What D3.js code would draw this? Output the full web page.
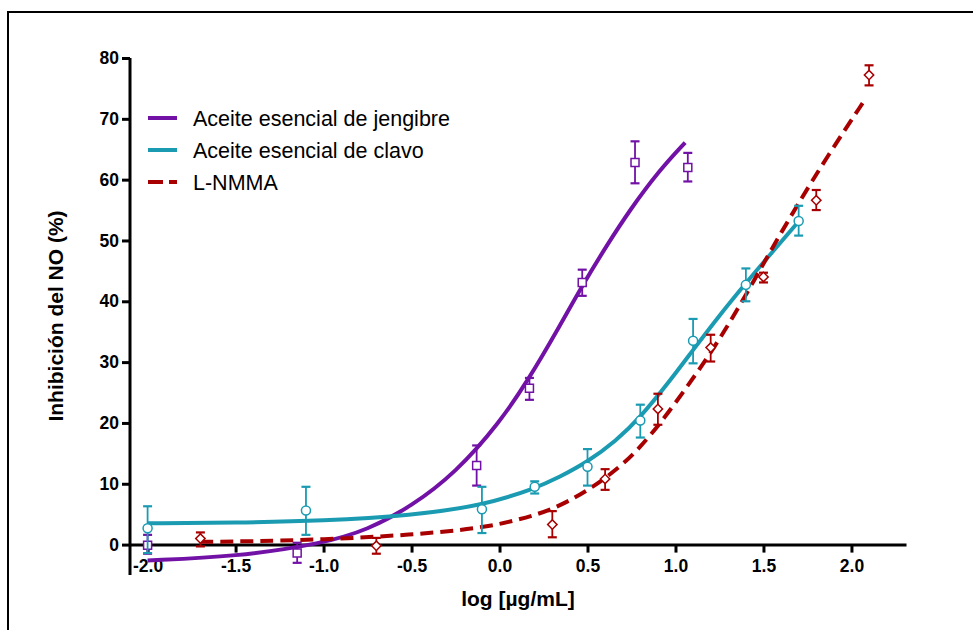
<!DOCTYPE html>
<html>
<head>
<meta charset="utf-8">
<script src="https://cdn.jsdelivr.net/npm/d3@7"></script>
<style>
  body { margin: 0; background: #fff; }
  svg { font-family: "Liberation Sans", Arial, sans-serif; }
</style>
</head>
<body>
<svg id="canvas" width="973" height="630"></svg>
<script>
"use strict";

// measured points (x = log conc, y = % inhibition, lo/hi = error bar ends)
const jengibreX = [-2.0, -1.15, -0.13, 0.17, 0.47, 0.77, 1.07];
const jengibreY = [-0.1, -1.4, 13.0, 25.7, 43.1, 62.8, 62.0];
const jengibreLo = [-1.5, -3.0, 9.7, 23.8, 40.9, 59.4, 59.7];
const jengibreHi = [1.6, 0.3, 16.3, 27.4, 45.2, 66.3, 64.4];

const clavoX = [-2.0, -1.1, -0.1, 0.2, 0.5, 0.8, 1.1, 1.4, 1.7];
const clavoY = [2.7, 5.6, 5.8, 9.5, 12.8, 20.4, 33.5, 42.7, 53.2];
const clavoLo = [-1.4, 1.6, 1.9, 8.4, 9.7, 17.6, 29.8, 40.0, 50.8];
const clavoHi = [6.3, 9.5, 9.5, 10.4, 15.7, 23.0, 37.1, 45.4, 55.7];

const nmmaX = [-1.7, -0.7, 0.3, 0.6, 0.9, 1.2, 1.5, 1.8, 2.1];
const nmmaY = [1.0, -0.2, 3.3, 10.8, 22.3, 32.4, 44.0, 56.6, 77.2];
const nmmaLo = [-0.3, -1.5, 1.2, 9.0, 19.7, 30.1, 43.1, 55.0, 75.5];
const nmmaHi = [2.0, 1.1, 5.5, 12.4, 24.8, 34.5, 44.7, 58.3, 78.8];

// fitted curves
const jengibreFitX = [-2.0, -1.5, -1.0, -0.75, -0.5, -0.25, 0.0, 0.17, 0.32, 0.47, 0.61, 0.74, 0.91, 1.055];
const jengibreFitY = [-2.6, -2.0, 0.2, 2.4, 6.3, 11.8, 20.0, 27.4, 34.8, 42.6, 49.2, 55.0, 61.6, 66.1];

const clavoFitX = [-2.0, -1.5, -1.0, -0.5, -0.1, 0.2, 0.34, 0.5, 0.66, 0.8, 0.96, 1.1, 1.25, 1.4, 1.55, 1.69];
const clavoFitY = [3.5, 3.6, 3.9, 4.8, 6.4, 9.2, 11.1, 13.6, 17.0, 20.9, 26.6, 32.0, 37.7, 43.0, 48.1, 52.8];

const nmmaFitX = [-1.7, -1.5, -1.0, -0.5, -0.1, 0.11, 0.29, 0.49, 0.68, 0.8, 0.93, 1.1, 1.25, 1.4, 1.55, 1.69, 1.86, 2.08];
const nmmaFitY = [0.45, 0.5, 0.8, 1.6, 2.7, 4.1, 5.6, 8.6, 12.6, 16.0, 20.5, 27.3, 33.7, 41.0, 48.8, 55.7, 63.7, 73.3];

const xTicks = [-2.0, -1.5, -1.0, -0.5, 0.0, 0.5, 1.0, 1.5, 2.0];
const yTicks = [0, 10, 20, 30, 40, 50, 60, 70, 80];

const seriesNames = ["Aceite esencial de jengibre", "Aceite esencial de clavo", "L-NMMA"];
const seriesColors = ["#7211a6", "#1a9bb2", "#a80000"];

const canvas = d3.select("#canvas");

const x = d3.scaleLinear().domain([-2.1, 2.31]).range([130, 906]);
const y = d3.scaleLinear().domain([-5, 80]).range([575, 58]);

// outer frame
canvas
  .append("rect")
  .attr("x", 8)
  .attr("y", 12)
  .attr("width", 990)
  .attr("height", 650)
  .attr("fill", "none")
  .attr("stroke", "#000")
  .attr("stroke-width", 2);

// axes
const yAxis = canvas
  .append("g")
  .attr("transform", `translate(${x(-2.1)},0)`)
  .call(d3.axisLeft(y).tickValues(yTicks).tickFormat(d3.format("d")).tickSize(8).tickPadding(3));

const xAxis = canvas
  .append("g")
  .attr("transform", `translate(0,${y(0)})`)
  .call(d3.axisBottom(x).tickValues(xTicks).tickFormat(d3.format(".1f")).tickSize(8).tickSizeOuter(0).tickPadding(7));

[xAxis, yAxis].forEach((ax) => {
  ax.select(".domain").attr("stroke", "#000").attr("stroke-width", 3);
  ax.selectAll(".tick line").attr("stroke", "#000").attr("stroke-width", 3);
  ax.selectAll(".tick text")
    .attr("fill", "#000")
    .style("font-size", "17.5px")
    .style("font-weight", "bold")
    .style("font-family", "'Liberation Sans', Arial, sans-serif");
});
// y axis goes straight down to -5 with no outer ticks
yAxis.select(".domain").attr("d", `M0,${y(80)}V${y(-5)}`);
xAxis.selectAll(".tick text").text((d) => (d < 0 ? "-" : "") + d3.format(".1f")(Math.abs(d)));

// axis titles
canvas
  .append("text")
  .attr("transform", `translate(63,316) rotate(-90)`)
  .attr("text-anchor", "middle")
  .style("font-size", "21px")
  .style("font-weight", "bold")
  .text("Inhibición del NO (%)");

canvas
  .append("text")
  .attr("x", 518)
  .attr("y", 606)
  .attr("text-anchor", "middle")
  .style("font-size", "21px")
  .style("font-weight", "bold")
  .text("log [µg/mL]");

// fitted curves
const line = d3
  .line()
  .x((d) => x(d[0]))
  .y((d) => y(d[1]))
  .curve(d3.curveBasis);

const fits = [
  d3.zip(jengibreFitX, jengibreFitY),
  d3.zip(clavoFitX, clavoFitY),
  d3.zip(nmmaFitX, nmmaFitY),
];

canvas
  .selectAll("path.fit")
  .data(fits)
  .enter()
  .append("path")
  .attr("class", "fit")
  .attr("d", line)
  .attr("fill", "none")
  .attr("stroke", (d, i) => seriesColors[i])
  .attr("stroke-width", 4)
  .attr("stroke-dasharray", (d, i) => (i === 2 ? "13,7" : null));

// error bars + markers
const drawPoints = (xs, ys, los, his, color, shape) => {
  const g = canvas.append("g");
  xs.forEach((xv, i) => {
    const px = x(xv);
    g.append("line")
      .attr("x1", px).attr("x2", px)
      .attr("y1", y(los[i])).attr("y2", y(his[i]))
      .attr("stroke", color).attr("stroke-width", 1.8);
    [los[i], his[i]].forEach((v) => {
      g.append("line")
        .attr("x1", px - 4.5).attr("x2", px + 4.5)
        .attr("y1", y(v)).attr("y2", y(v))
        .attr("stroke", color).attr("stroke-width", 2.2);
    });
  });
  g.selectAll("path.mark")
    .data(xs)
    .enter()
    .append("path")
    .attr("class", "mark")
    .attr("d", d3.symbol().type(shape.type).size(shape.size))
    .attr("transform", (d, i) => `translate(${x(d)},${y(ys[i])})${shape.rot ? " rotate(45)" : ""}`)
    .attr("fill", "#fff")
    .attr("stroke", color)
    .attr("stroke-width", 1.5);
};

drawPoints(jengibreX, jengibreY, jengibreLo, jengibreHi, seriesColors[0], { type: d3.symbolSquare, size: 64 });
drawPoints(clavoX, clavoY, clavoLo, clavoHi, seriesColors[1], { type: d3.symbolCircle, size: 64 });
drawPoints(nmmaX, nmmaY, nmmaLo, nmmaHi, seriesColors[2], { type: d3.symbolSquare, size: 44, rot: true });

// legend
const legend = canvas
  .selectAll("g.legend")
  .data(seriesNames)
  .enter()
  .append("g")
  .attr("class", "legend")
  .attr("transform", (d, i) => `translate(148,${118 + i * 32})`);

legend
  .append("line")
  .attr("x1", 0)
  .attr("x2", 29)
  .attr("stroke", (d, i) => seriesColors[i])
  .attr("stroke-width", 4)
  .attr("stroke-dasharray", (d, i) => (i === 2 ? "15,6" : null));

legend
  .append("text")
  .attr("x", 45)
  .attr("y", 8)
  .style("font-size", "21.5px")
  .text((d) => d);
</script>
</body>
</html>
